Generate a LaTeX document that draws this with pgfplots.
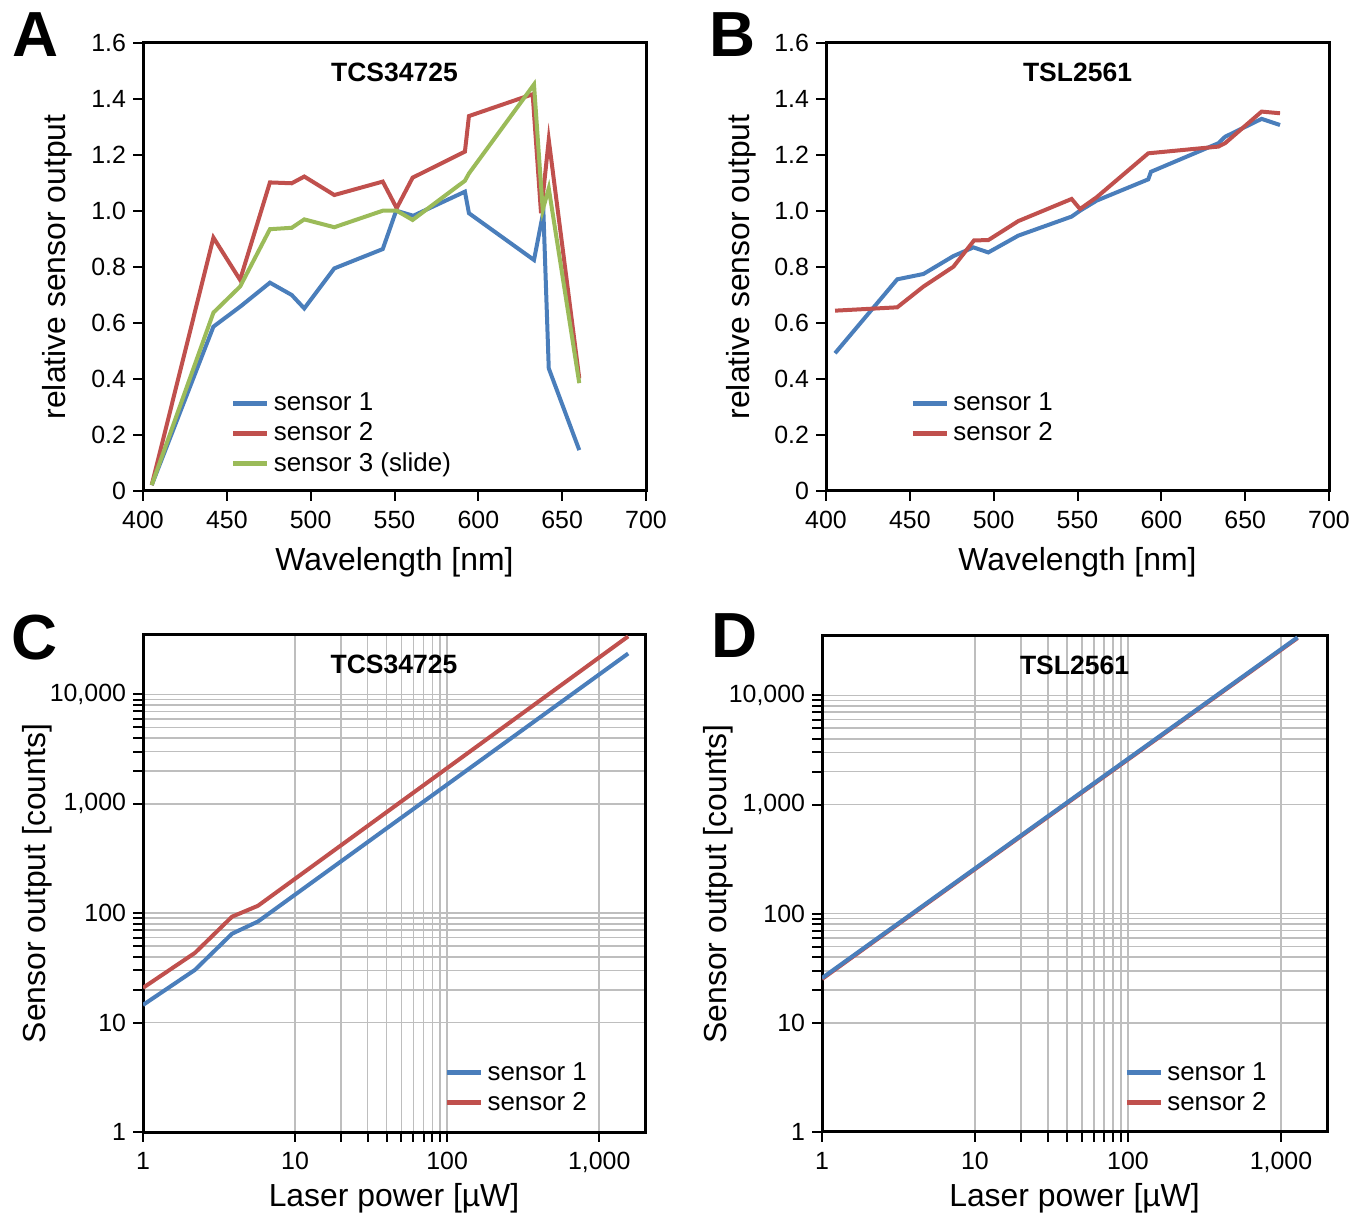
\documentclass[border=0pt]{standalone}
\usepackage{fontspec}
\setmainfont{Liberation Sans}
\usepackage{pgfplots}
\pgfplotsset{compat=1.18}

\definecolor{s1}{HTML}{4A7EBB}
\definecolor{s2}{HTML}{C0504D}
\definecolor{s3}{HTML}{9BBB59}
\definecolor{gridgray}{HTML}{BEBEBE}

\pgfplotsset{
  panel/.style={
    scale only axis, anchor=north west,
    axis line style={line width=1.5bp},
    tick style={black, line width=1bp},
    tick align=outside, tick pos=left,
    major tick length=5bp, minor tick length=5bp,
    /pgf/number format/assume math mode=true,
    tick label style={font=\fontsize{12.5}{14}\selectfont},
    xticklabel style={yshift=-1.5bp},
    label style={font=\fontsize{16}{19}\selectfont},
    title style={font=\bfseries\fontsize{13.3}{16}\selectfont,
      at={(axis description cs:0.5,1)}, anchor=center, yshift=-20.5bp},
    legend style={draw=none, fill=none, font=\fontsize{13}{15}\selectfont,
      anchor=north west, row sep=0.5bp},
    legend cell align=left,
    every axis plot/.append style={line width=2bp},
    legend image post style={line width=2.5bp},
  },
  spectral/.style={
    panel, width=251.5bp, height=224bp,
    xmin=400, xmax=700, ymin=0, ymax=1.6,
    xtick={400,450,500,550,600,650,700},
    ytick={0,0.2,0.4,0.6,0.8,1,1.2,1.4,1.6},
    yticklabels={0,0.2,0.4,0.6,0.8,1.0,1.2,1.4,1.6},
    xlabel={Wavelength [nm]},
    ylabel={relative sensor output},
  },
  laser/.style={
    panel,
    xmin=1, xmax=2000, ymin=1, ymax=35000,
    xtick={1,10,100,1000}, xticklabels={1,10,100,{1,000}},
    ytick={1,10,100,1000,10000}, yticklabels={1,10,100,{1,000},{10,000}},
    minor xtick={20,30,40,50,60,70,80,90},
    minor ytick={20,30,40,50,60,70,80,90,2000,3000,4000,5000,6000,7000,8000,9000},
    grid=both,
    major grid style={gridgray, line width=0.8bp},
    minor grid style={gridgray, line width=0.8bp},
    xlabel={Laser power [µW]},
    ylabel={Sensor output [counts]},
    xlabel style={at={(axis description cs:0.5,-0.134)}, anchor=center},
  },
}

\begin{document}
\begin{tikzpicture}
\useasboundingbox (0bp,0bp) rectangle (681bp,607.5bp);

% A: TCS34725 spectral response
\begin{axis}[spectral, at={(71.5bp,586bp)}, title={TCS34725},
  ylabel style={at={(axis description cs:-0.171,0.5)}, anchor=center},
  xlabel style={at={(axis description cs:0.5,-0.16)}, anchor=center},
  legend style={at={(axis description cs:0.162,0.238)}}]
\addplot[s1] coordinates {
  (405.2,0.021) (442,0.587) (457.9,0.658) (475.7,0.744) (488.7,0.700)
  (496.2,0.652) (514.1,0.795) (543,0.864) (551,1.001) (561.2,0.983)
  (592,1.069) (594.4,0.992) (633.2,0.825) (638.8,0.998) (642,0.438)
  (660.2,0.146)};
\addlegendentry{sensor 1}
\addplot[s2] coordinates {
  (405.2,0.021) (442,0.905) (457.9,0.754) (475.7,1.102) (488.7,1.099)
  (496.2,1.123) (514.1,1.057) (543,1.105) (551.3,1.010) (560.8,1.119)
  (592,1.212) (594.4,1.339) (632.4,1.417) (637.4,0.992) (642,1.254)
  (660.2,0.402)};
\addlegendentry{sensor 2}
\addplot[s3] coordinates {
  (405.2,0.021) (442,0.637) (457.9,0.730) (475.7,0.935) (488.7,0.940)
  (496.2,0.970) (514.1,0.942) (543,1.001) (551.3,1.001) (560.8,0.968)
  (592,1.108) (594.4,1.134) (633.2,1.452) (638.4,1.004) (642,1.081)
  (660.2,0.385)};
\addlegendentry{sensor 3 (slide)}
\end{axis}

% B: TSL2561 spectral response
\begin{axis}[spectral, at={(413bp,586bp)}, title={TSL2561},
  ylabel style={at={(axis description cs:-0.169,0.5)}, anchor=center},
  xlabel style={at={(axis description cs:0.5,-0.16)}, anchor=center},
  legend style={at={(axis description cs:0.155,0.238)}}]
\addplot[s1] coordinates {
  (405.4,0.492) (442.5,0.756) (458.1,0.775) (476,0.839) (487.9,0.870)
  (496.8,0.852) (514.7,0.912) (546.5,0.980) (551.5,1.001) (561.4,1.037)
  (592.2,1.113) (593.8,1.140) (634,1.242) (638,1.265) (659.8,1.329)
  (670.8,1.307)};
\addlegendentry{sensor 1}
\addplot[s2] coordinates {
  (405.4,0.644) (442.5,0.656) (458.1,0.730) (476,0.801) (488.3,0.895)
  (496.8,0.896) (514.7,0.964) (546.5,1.043) (551.5,1.007) (561.4,1.049)
  (592.2,1.206) (634,1.230) (638,1.242) (659.8,1.355) (670.8,1.349)};
\addlegendentry{sensor 2}
\end{axis}

% C: TCS34725 linearity
\begin{loglogaxis}[laser, at={(71.5bp,290bp)}, width=251bp, height=248.5bp, title={TCS34725},
  ylabel style={at={(axis description cs:-0.211,0.5)}, anchor=center},
  legend style={at={(axis description cs:0.588,0.157)}}]
\addplot[s1] coordinates {(1,14.5) (2.2,30.4) (3.85,65) (5.7,84) (1550,23700)};
\addlegendentry{sensor 1}
\addplot[s2] coordinates {(1,20.8) (2.2,43.5) (3.85,93) (5.7,117) (1550,34000)};
\addlegendentry{sensor 2}
\end{loglogaxis}

% D: TSL2561 linearity (sensor 2 drawn first, blue on top)
\begin{loglogaxis}[laser, at={(411bp,289.5bp)}, width=252.5bp, height=248bp, title={TSL2561},
  ylabel style={at={(axis description cs:-0.206,0.5)}, anchor=center},
  legend style={at={(axis description cs:0.586,0.157)}}, reverse legend]
\addplot[s2] coordinates {(1,25.2) (2.2,55.9) (3.85,98) (5.7,145.4) (1283,33500)};
\addlegendentry{sensor 2}
\addplot[s1] coordinates {(1,25.7) (2.2,56.8) (3.85,99.5) (5.7,147.6) (1283,34000)};
\addlegendentry{sensor 1}
\end{loglogaxis}

\node[font=\bfseries\fontsize{32}{32}\selectfont] at (18bp,590bp) {A};
\node[font=\bfseries\fontsize{32}{32}\selectfont] at (366.5bp,590bp) {B};
\node[font=\bfseries\fontsize{32}{32}\selectfont] at (17.5bp,288.5bp) {C};
\node[font=\bfseries\fontsize{32}{32}\selectfont] at (367.5bp,289.5bp) {D};
\end{tikzpicture}
\end{document}
